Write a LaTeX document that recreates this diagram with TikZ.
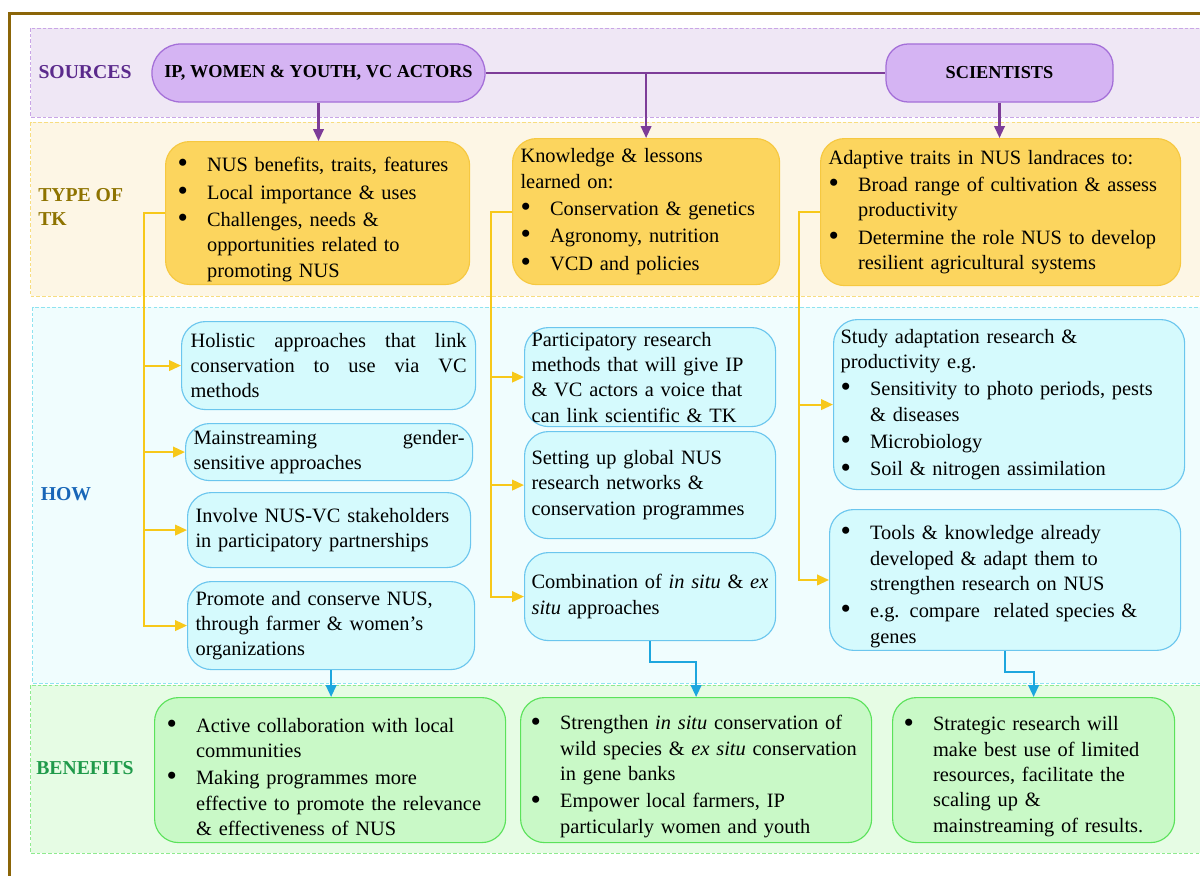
\documentclass[tikz,border=0pt]{standalone}
\usepackage{fontspec}
\setmainfont{Liberation Serif}
\usetikzlibrary{arrows.meta}
\definecolor{frameC}{HTML}{8B6508}
\definecolor{srcband}{HTML}{EFE7F5}
\definecolor{srcbandline}{HTML}{C9A6E6}
\definecolor{srcfill}{HTML}{D5B4F3}
\definecolor{srcline}{HTML}{A46FD8}
\definecolor{srclbl}{HTML}{5B2A8C}
\definecolor{plinkc}{HTML}{7D3C98}
\definecolor{tkband}{HTML}{FDF6E5}
\definecolor{tkbandline}{HTML}{F7DD80}
\definecolor{tkfill}{HTML}{FCD55E}
\definecolor{tkline}{HTML}{F6C840}
\definecolor{tklbl}{HTML}{8E7300}
\definecolor{ylinkc}{HTML}{F7C81A}
\definecolor{howband}{HTML}{F0FDFE}
\definecolor{howbandline}{HTML}{8FE3F0}
\definecolor{howfill}{HTML}{D5FAFD}
\definecolor{howline}{HTML}{6BC6EE}
\definecolor{howlbl}{HTML}{1866B8}
\definecolor{blinkc}{HTML}{1DA6DE}
\definecolor{benband}{HTML}{E6FCE4}
\definecolor{benbandline}{HTML}{8FEA8F}
\definecolor{benfill}{HTML}{C9F9C7}
\definecolor{benline}{HTML}{5BE25B}
\definecolor{benlbl}{HTML}{1F9A4A}
\hyphenpenalty=10000
\newcommand{\nusitem}[1]{\par\vskip1.5pt\hangindent=21pt\hangafter=1\noindent\hbox to 21pt{\raisebox{-0.12ex}{\scalebox{1.45}{\textbullet}}\hfil}#1\par}
\begin{document}
\begin{tikzpicture}[x=0.025cm,y=-0.025cm,>={Triangle[length=8.5pt,width=7.5pt]},
	every node/.style={font=\fontsize{14.5}{18}\selectfont},
	band/.style={dash pattern=on 2.5pt off 1.5pt,line width=0.6pt},
	box/.style={anchor=north west,rounded corners=0.6cm,line width=0.8pt,align=left,inner ysep=2pt},
	src/.style={fill=srcfill,draw=srcline,line width=0.9pt,font=\fontsize{13}{15}\selectfont\bfseries,minimum height=1.45cm},
	tk/.style={box,fill=tkfill,draw=tkline},
	how/.style={box,fill=howfill,draw=howline},
	ben/.style={box,fill=benfill,draw=benline},
	lbl/.style={font=\fontsize{14}{17}\selectfont\bfseries,align=left,inner sep=0pt},
	plink/.style={draw=plinkc,line width=1.5pt},
	ylink/.style={draw=ylinkc,line width=1.5pt},
	blink/.style={draw=blinkc,line width=1.5pt}]
	\useasboundingbox (0,0) rectangle (1200,875);
	\clip (0,0) rectangle (1200,875);
	\draw[frameC,line width=2pt] (9.5,13.5) rectangle (1260,940);
	% bands
	\filldraw[band,fill=srcband,draw=srcbandline] (30.5,28) rectangle (1260,117);
	\filldraw[band,fill=tkband,draw=tkbandline] (30.5,122) rectangle (1260,296);
	\filldraw[band,fill=howband,draw=howbandline] (32.5,307) rectangle (1260,683);
	\filldraw[band,fill=benband,draw=benbandline] (30.5,685) rectangle (1260,853);
	% row labels
	\node[lbl,text=srclbl] (lsrc) at (85,72) {SOURCES};
	\node[lbl,text=tklbl,anchor=west] (ltk) at (38,207) {TYPE OF\\TK};
	\node[lbl,text=howlbl] (lhow) at (66,494) {HOW};
	\node[lbl,text=benlbl] (lben) at (85,768) {BENEFITS};
	% sources
	\node[src,rounded corners=0.72cm,minimum width=8.325cm] (ip) at (318.5,73) {IP, WOMEN \& YOUTH, VC ACTORS};
	\node[src,rounded corners=0.55cm,minimum width=5.675cm] (sci) at (999.5,73) {SCIENTISTS};
	% type of tk
	\node[tk,inner xsep=0.3cm,text width=7cm,minimum height=3.425cm] (tk1) at (165,141) {%
		\nusitem{NUS benefits, traits, features}
		\nusitem{Local importance \& uses}
		\nusitem{Challenges, needs \&\newline opportunities related to\newline promoting NUS}};
	\node[tk,inner xsep=0.2cm,text width=6.275cm,minimum height=3.65cm] (tk2) at (512,138) {%
		Knowledge \& lessons\newline learned on:
		\nusitem{Conservation \& genetics}
		\nusitem{Agronomy, nutrition}
		\nusitem{VCD and policies}};
	\node[tk,inner xsep=0.2cm,text width=8.6cm,minimum height=3.675cm] (tk3) at (820,138) {%
		Adaptive traits in NUS landraces to:
		\nusitem{Broad range of cultivation \& assess\newline productivity}
		\nusitem{Determine the role NUS to develop\newline resilient agricultural systems}};
	% how
	\node[how,align=justify,inner xsep=0.225cm,text width=6.9cm,minimum height=2.2cm] (h11) at (181,321) {Holistic approaches that link\linebreak conservation to use via VC\linebreak methods};
	\node[how,align=justify,inner xsep=0.2cm,text width=6.775cm,minimum height=1.425cm] (h12) at (185,423) {Mainstreaming gender-\linebreak sensitive approaches};
	\node[how,inner xsep=0.2cm,text width=6.675cm,minimum height=1.875cm] (h13) at (187,492) {Involve NUS-VC stakeholders\\in participatory partnerships};
	\node[how,inner xsep=0.2cm,text width=6.775cm,minimum height=2.2cm] (h14) at (187,581) {Promote and conserve NUS,\\through farmer \& women’s\\organizations};
	\node[how,inner xsep=0.175cm,text width=5.925cm,minimum height=2.475cm] (h21) at (524,327) {Participatory research\\methods that will give IP\\\& VC actors a voice that\\can link scientific \& TK};
	\node[how,inner xsep=0.175cm,text width=5.925cm,minimum height=2.675cm] (h22) at (524,431) {Setting up global NUS\\research networks \&\\conservation programmes};
	\node[how,inner xsep=0.175cm,text width=5.925cm,minimum height=2.2cm] (h23) at (524,552) {Combination of \textit{in situ} \& \textit{ex}\\\textit{situ} approaches};
	\node[how,inner xsep=0.175cm,text width=8.425cm,minimum height=4.25cm] (h31) at (833,319) {%
		Study adaptation research \&\newline productivity e.g.
		\nusitem{Sensitivity to photo periods, pests\newline \& diseases}
		\nusitem{Microbiology}
		\nusitem{Soil \& nitrogen assimilation}};
	\node[how,inner xsep=0.275cm,text width=8.225cm,minimum height=3.35cm] (h32) at (829,509) {%
		\nusitem{Tools \& knowledge already\newline developed \& adapt them to\newline strengthen research on NUS}
		\nusitem{e.g. compare~ related species \&\newline genes}};
	% benefits
	\node[ben,inner xsep=0.3cm,text width=8.175cm,minimum height=3.625cm] (b1) at (154,697) {%
		\nusitem{Active collaboration with local\newline communities}
		\nusitem{Making programmes more\newline effective to promote the relevance\newline \& effectiveness of NUS}};
	\node[ben,inner xsep=0.25cm,text width=8.275cm,minimum height=3.625cm] (b2) at (520,697) {%
		\nusitem{Strengthen \textit{in situ} conservation of\newline wild species \& \textit{ex situ} conservation\newline in gene banks}
		\nusitem{Empower local farmers, IP\newline particularly women and youth}};
	\node[ben,inner xsep=0.275cm,text width=6.5cm,minimum height=3.625cm] (b3) at (892,697) {%
		\nusitem{Strategic research will\newline make best use of limited\newline resources, facilitate the\newline scaling up \&\newline mainstreaming of results.}};
	% links
	\draw[plink] (ip.east) -- (sci.west);
	\draw[plink,->] (ip.south) -- (ip.south |- tk1.north);
	\draw[plink,->] (tk2.north |- ip.east) -- (tk2.north);
	\draw[plink,->] (sci.south) -- (sci.south |- tk3.north);
	\coordinate (ya) at (144,0);
	\coordinate (yb) at (491,0);
	\coordinate (yc) at (799,0);
	\draw[ylink,->] (tk1.west) -| (ya |- h14.west) -- (h14.west);
	\foreach \n in {h11,h12,h13} \draw[ylink,->] (ya |- \n.west) -- (\n.west);
	\draw[ylink,->] (tk2.west) -| (yb |- h23.west) -- (h23.west);
	\foreach \n in {h21,h22} \draw[ylink,->] (yb |- \n.west) -- (\n.west);
	\draw[ylink,->] (tk3.west) -| (yc |- h32.west) -- (h32.west);
	\draw[ylink,->] (yc |- h31.west) -- (h31.west);
	\draw[blink,->] (h14.south) -- (h14.south |- b1.north);
	\draw[blink,->] (h23.south) -- ++(0,21) -| (b2.north);
	\draw[blink,->] (h32.south) -- ++(0,21) -| (b3.north);
\end{tikzpicture}
\end{document}
